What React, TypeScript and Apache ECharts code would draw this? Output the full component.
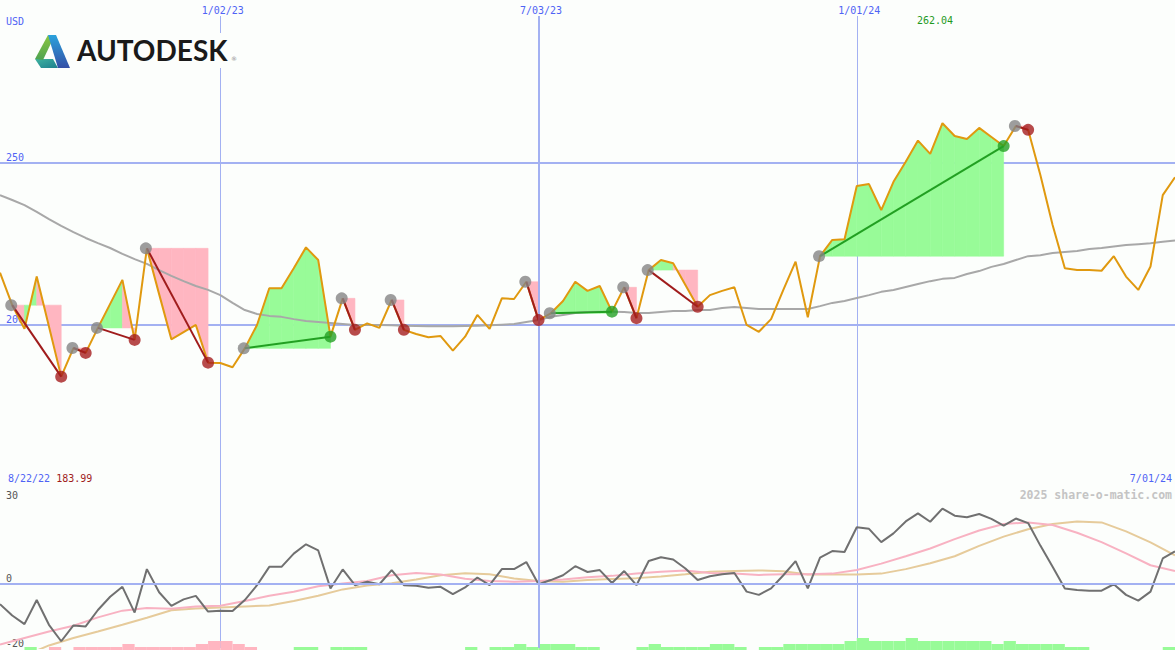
import React, { useEffect, useRef } from 'react';
import * as echarts from 'echarts';

// ---------- categories (weekly closes, Mondays) ----------
const FIRST_WEEK = Date.UTC(2022, 7, 29);
const WEEK_MS = 7 * 24 * 3600 * 1000;
const N = 97;
const weekLabels: string[] = Array.from({ length: N }, (_, i) => {
  const d = new Date(FIRST_WEEK + i * WEEK_MS);
  return `${d.getUTCMonth() + 1}/${String(d.getUTCDate()).padStart(2, '0')}/${String(d.getUTCFullYear()).slice(2)}`;
});
const markedWeeks = [18, 44, 70];
const midYearWeek = 44;

// ---------- price panel ----------
const prices = [
  216.0, 206.0, 198.7, 214.8, 199.4, 183.99, 192.8, 191.3, 199.0, 206.4,
  213.8, 195.3, 223.5, 209.4, 195.5, 197.7, 199.9, 188.3, 188.2, 186.9,
  192.7, 199.9, 211.2, 211.2, 217.4, 223.8, 219.9, 196.3, 208.1, 198.4,
  200.4, 199.0, 207.6, 198.4, 197.1, 196.1, 196.5, 192.0, 196.3, 203.0,
  198.7, 208.1, 207.9, 213.2, 201.4, 203.5, 207.3, 213.2, 210.4, 211.9,
  204.0, 211.5, 202.0, 216.8, 219.9, 218.9, 212.2, 205.5, 209.1, 210.4,
  211.5, 199.9, 197.8, 201.7, 210.7, 219.4, 202.3, 221.1, 226.1, 226.3,
  242.7, 243.3, 235.3, 244.0, 250.2, 256.7, 252.6, 262.04, 258.1, 257.2,
  260.6, 257.8, 255.0, 261.2, 260.0, 246.1, 230.7, 217.4, 216.8, 216.8,
  216.6, 221.1, 214.8, 210.7, 217.9, 239.9, 245.4,
];
const movingAvg = [
  239.9, 238.4, 236.8, 234.7, 232.5, 230.4, 228.5, 226.7, 225.1, 223.6,
  221.8, 220.2, 218.7, 216.8, 215.0, 213.4, 211.9, 210.7, 209.1, 206.7,
  204.5, 203.3, 202.7, 202.4, 201.7, 201.1, 200.8, 200.5, 200.2, 199.9,
  199.9, 199.9, 199.8, 199.7, 199.6, 199.5, 199.5, 199.5, 199.6, 199.7,
  199.8, 200.0, 200.2, 200.8, 201.4, 202.4, 203.0, 203.6, 203.9, 204.0,
  204.0, 203.9, 203.6, 203.6, 203.9, 204.2, 204.2, 204.5, 204.5, 205.1,
  205.4, 205.1, 204.8, 204.8, 204.8, 204.8, 204.8, 205.7, 206.7, 207.3,
  208.2, 209.1, 210.1, 210.7, 211.6, 212.5, 213.4, 214.1, 214.4, 215.6,
  216.5, 217.8, 218.7, 219.9, 221.1, 221.4, 222.1, 222.4, 222.7, 223.3,
  223.6, 224.1, 224.5, 224.8, 225.1, 225.5, 225.9,
];
const tradeEntries = [1, 6, 8, 12, 20, 28, 32, 43, 45, 51, 53, 67, 83];
const tradeExits = [5, 7, 11, 17, 27, 29, 33, 44, 50, 52, 57, 82, 84];
const priceTicks = [200, 250];

// ---------- oscillator panel ----------
const oscillator = [
  -6.4, -9.9, -12.6, -5.1, -12.8, -17.9, -13.0, -13.3, -8.2, -4.1,
  -1.0, -9.0, 4.5, -2.7, -6.9, -4.9, -3.8, -8.7, -8.4, -8.5,
  -5.1, -0.5, 5.2, 5.2, 9.3, 12.2, 10.3, -1.5, 4.4, -0.5,
  0.6, -0.2, 4.2, -0.5, -0.7, -1.3, -1.0, -3.3, -1.2, 1.9,
  -0.5, 4.5, 4.5, 6.7, -0.2, 1.1, 2.6, 5.4, 3.6, 4.2,
  0.2, 3.9, -0.5, 7.0, 8.2, 7.5, 4.7, 1.1, 2.3, 2.9,
  3.3, -2.5, -3.5, -1.5, 2.6, 7.0, -1.5, 8.1, 10.1, 9.8,
  17.5, 17.0, 12.9, 15.6, 19.3, 21.8, 19.2, 23.3, 21.1, 20.6,
  21.6, 20.1, 18.0, 20.2, 18.8, 11.8, 5.2, -1.5, -2.0, -2.2,
  -2.2, -0.2, -3.5, -5.3, -2.5, 7.8, 10.0,
];
const pinkSignal: [number, number][] = [
  [0, -18.9], [2, -16.9], [4, -14.9], [6, -13.1], [8, -10.5], [10, -8.4], [12, -7.6], [14, -7.8],
  [16, -7.1], [18, -6.9], [20, -5.4], [22, -3.8], [24, -2.5], [26, -0.8], [28, 0.0], [30, 0.8],
  [32, 2.6], [34, 3.3], [36, 2.8], [38, 1.5], [40, 0.8], [42, 0.6], [44, 0.8], [46, 1.3],
  [48, 2.0], [50, 2.4], [52, 3.1], [54, 3.7], [56, 4.1], [58, 3.3], [60, 3.1], [62, 2.7],
  [64, 2.9], [66, 2.9], [68, 3.1], [70, 4.2], [72, 6.2], [74, 8.5], [76, 10.9], [78, 13.8],
  [80, 16.5], [82, 18.5], [84, 19.0], [86, 18.2], [88, 15.8], [90, 12.9], [92, 9.4], [94, 5.7], [96, 3.9],
];
const tanSignal: [number, number][] = [
  [0, -25.5], [2, -22.4], [4, -19.2], [6, -16.9], [8, -14.9], [10, -12.8], [12, -10.6], [14, -8.3],
  [16, -7.7], [18, -7.4], [20, -7.1], [22, -6.8], [24, -5.4], [26, -3.8], [28, -1.8], [30, -0.6],
  [32, 0.1], [34, 1.3], [36, 2.6], [38, 3.2], [40, 2.9], [42, 1.6], [44, 0.8], [46, 0.6],
  [48, 1.1], [50, 1.4], [52, 1.7], [54, 2.2], [56, 2.9], [58, 3.7], [60, 3.9], [62, 4.1],
  [64, 3.8], [66, 2.8], [68, 2.8], [70, 2.8], [72, 3.1], [74, 4.5], [76, 6.3], [78, 8.5],
  [80, 11.7], [82, 14.6], [84, 16.9], [86, 18.5], [88, 19.3], [90, 19.0], [92, 16.2], [94, 12.8], [96, 8.8],
];
const oscTicks = [0, -20];

// ---------- strength histogram ----------
const strength = [
  0, 0, 1, 0, -1, 0, -1, -1, -1, -1,
  -2, -1, -1, -1, -1, -1, -2, -3, -3, -2,
  -1, 0, 0, 0, 1, 1, 0, 1, 1, 1,
  0, 0, 0, 0, 0, 0, 0, 0, 1, 0,
  1, 1, 2, 1, 2, 2, 2, 1, 1, 0,
  0, 0, 1, 2, 1, 1, 1, 1, 2, 2,
  1, 0, 1, 1, 2, 2, 2, 2, 2, 3,
  4, 3, 3, 3, 4, 3, 3, 3, 3, 3,
  3, 2, 3, 2, 2, 2, 2, 1, 1, 0,
  0, 0, 0, 0, 0, 1, 0,
];

// ---------- styles ----------
const MONO = 'DejaVu Sans Mono';
const BLUE_TEXT = '#4f63f5';
const GRID_BLUE = '#a3b1f2';
const SEP_BLUE = '#7888ea';
const GAIN_FILL = '#98fb98';
const LOSS_FILL = '#ffb6c1';
const BG = '#fcfefc';

export default function App() {
  const ref = useRef<HTMLDivElement>(null);

  useEffect(() => {
    if (!ref.current) return;
    const chart = echarts.init(ref.current, undefined, { renderer: 'svg' });

    const fillData: number[][] = [];
    tradeEntries.forEach((e, j) => {
      const level = prices[e];
      for (let i = e; i < tradeExits[j]; i++) fillData.push([i, level, prices[i], prices[i + 1]]);
    });
    const tradeLines = tradeEntries.map((e, j) => [e, prices[e], tradeExits[j], prices[tradeExits[j]]]);
    const entryPts = tradeEntries.map((e) => [e, prices[e]]);
    const lossExits = tradeExits.filter((x, j) => prices[x] < prices[tradeEntries[j]]).map((x) => [x, prices[x]]);
    const winExits = tradeExits.filter((x, j) => prices[x] >= prices[tradeEntries[j]]).map((x) => [x, prices[x]]);
    const histData = strength.map((v, i) => [i, v]);

    const minPrice = Math.min(...prices);
    const maxPrice = Math.max(...prices);
    const maxIdx = prices.indexOf(maxPrice);

    const catAxisBase = {
      type: 'category' as const,
      data: weekLabels,
      boundaryGap: false,
      axisTick: { show: false },
    };

    const option: any = {
      animation: false,
      backgroundColor: BG,
      grid: [
        { left: 0, right: 0, top: 16, height: 471, outerBoundsMode: 'none' },
        { left: 0, right: 0, top: 487, height: 161, outerBoundsMode: 'none' },
        { left: 0, right: 0, top: 620, height: 30, outerBoundsMode: 'none' },
      ],
      xAxis: [
        {
          ...catAxisBase,
          gridIndex: 0,
          position: 'top',
          axisLine: { show: false },
          axisLabel: {
            show: true,
            interval: (i: number) => markedWeeks.includes(i),
            margin: 1,
            color: BLUE_TEXT,
            fontFamily: MONO,
            fontSize: 10,
            padding: [0, 0, 0, 5],
          },
          splitLine: {
            show: true,
            interval: (i: number) => markedWeeks.includes(i) && i !== midYearWeek,
            lineStyle: { color: GRID_BLUE, width: 1 },
          },
        },
        {
          ...catAxisBase,
          gridIndex: 1,
          position: 'top',
          axisLine: { show: true, lineStyle: { color: SEP_BLUE, width: 2 } },
          axisLabel: { show: false },
          splitLine: {
            show: true,
            interval: (i: number) => markedWeeks.includes(i) && i !== midYearWeek,
            lineStyle: { color: GRID_BLUE, width: 1 },
          },
        },
        { ...catAxisBase, gridIndex: 2, show: false },
      ],
      yAxis: [
        {
          type: 'value',
          gridIndex: 0,
          min: 150,
          max: 295.06,
          interval: 50,
          axisLine: { show: false },
          axisTick: { show: false },
          axisLabel: {
            inside: true,
            margin: 6,
            verticalAlign: 'bottom',
            color: BLUE_TEXT,
            fontFamily: MONO,
            fontSize: 10,
            formatter: (v: number) => (priceTicks.includes(v) ? String(v) : ''),
          },
          splitLine: {
            show: true,
            showMinLine: false,
            showMaxLine: false,
            lineStyle: { color: GRID_BLUE, width: 2 },
          },
        },
        {
          type: 'value',
          gridIndex: 1,
          min: -20,
          max: 30,
          interval: 10,
          axisLine: { show: false },
          axisTick: { show: false },
          axisLabel: {
            inside: true,
            margin: 6,
            verticalAlign: 'bottom',
            color: '#555555',
            fontFamily: MONO,
            fontSize: 10,
            formatter: (v: number) => (oscTicks.includes(v) ? String(v) : ''),
          },
          splitLine: { show: false },
        },
        { type: 'value', gridIndex: 2, min: 0, max: 10, show: false },
      ],
      series: [
        {
          type: 'custom',
          name: 'tradeFill',
          xAxisIndex: 0,
          yAxisIndex: 0,
          z: 1,
          data: fillData,
          encode: { x: 0, y: [1, 2, 3] },
          renderItem: (_p: any, api: any) => {
            const i = api.value(0);
            const lv = api.value(1);
            const p0 = api.value(2);
            const p1 = api.value(3);
            const col = p1 >= lv ? GAIN_FILL : LOSS_FILL;
            return {
              type: 'polygon',
              shape: { points: [api.coord([i, lv]), api.coord([i, p0]), api.coord([i + 1, p1]), api.coord([i + 1, lv])] },
              style: { fill: col, stroke: col, lineWidth: 0.6 },
            };
          },
          markLine: {
            silent: true,
            symbol: ['none', 'none'],
            label: { show: false },
            data: [{ xAxis: midYearWeek, lineStyle: { color: GRID_BLUE, width: 2, type: 'solid' } }],
          },
        },
        {
          type: 'line',
          name: 'avg',
          xAxisIndex: 0,
          yAxisIndex: 0,
          z: 2,
          data: movingAvg,
          showSymbol: false,
          symbol: 'none',
          lineStyle: { color: '#a8a8a8', width: 2 },
        },
        {
          type: 'line',
          name: 'price',
          xAxisIndex: 0,
          yAxisIndex: 0,
          z: 3,
          data: prices,
          showSymbol: false,
          symbol: 'none',
          lineStyle: { color: '#e0990f', width: 2 },
        },
        {
          type: 'custom',
          name: 'tradeLines',
          xAxisIndex: 0,
          yAxisIndex: 0,
          z: 4,
          data: tradeLines,
          encode: { x: [0, 2], y: [1, 3] },
          renderItem: (_p: any, api: any) => {
            const a = api.coord([api.value(0), api.value(1)]);
            const b = api.coord([api.value(2), api.value(3)]);
            const win = api.value(3) >= api.value(1);
            return {
              type: 'line',
              shape: { x1: a[0], y1: a[1], x2: b[0], y2: b[1] },
              style: { stroke: win ? '#22a022' : '#a01c1c', lineWidth: 2 },
            };
          },
        },
        {
          type: 'scatter',
          xAxisIndex: 0,
          yAxisIndex: 0,
          z: 5,
          data: entryPts,
          symbol: 'circle',
          symbolSize: 12,
          symbolOffset: [-1, 0],
          itemStyle: { color: '#848484' },
        },
        {
          type: 'scatter',
          xAxisIndex: 0,
          yAxisIndex: 0,
          z: 6,
          data: lossExits,
          symbol: 'circle',
          symbolSize: 12,
          itemStyle: { color: '#a51e1e' },
        },
        {
          type: 'scatter',
          xAxisIndex: 0,
          yAxisIndex: 0,
          z: 6,
          data: winExits,
          symbol: 'circle',
          symbolSize: 12,
          itemStyle: { color: '#24a024' },
        },
        {
          type: 'line',
          name: 'tan',
          xAxisIndex: 1,
          yAxisIndex: 1,
          z: 2,
          data: tanSignal,
          showSymbol: false,
          symbol: 'none',
          lineStyle: { color: '#e6cb9b', width: 2 },
          markLine: {
            silent: true,
            symbol: ['none', 'none'],
            label: { show: false },
            data: [
              { yAxis: 0, lineStyle: { color: GRID_BLUE, width: 2, type: 'solid' } },
              { xAxis: midYearWeek, lineStyle: { color: GRID_BLUE, width: 2, type: 'solid' } },
            ],
          },
        },
        {
          type: 'line',
          name: 'pink',
          xAxisIndex: 1,
          yAxisIndex: 1,
          z: 3,
          data: pinkSignal,
          showSymbol: false,
          symbol: 'none',
          lineStyle: { color: '#f8b2c2', width: 2 },
        },
        {
          type: 'line',
          name: 'osc',
          xAxisIndex: 1,
          yAxisIndex: 1,
          z: 4,
          data: oscillator,
          showSymbol: false,
          symbol: 'none',
          lineStyle: { color: '#707070', width: 2 },
        },
        {
          type: 'custom',
          name: 'strength',
          xAxisIndex: 2,
          yAxisIndex: 2,
          z: 2,
          data: histData,
          encode: { x: 0, y: 1 },
          renderItem: (_p: any, api: any) => {
            const i = api.value(0);
            const v = api.value(1);
            if (!v) return { type: 'group', children: [] };
            const a = api.coord([i, 0]);
            const b = api.coord([i + 1, Math.abs(v)]);
            return {
              type: 'rect',
              shape: { x: a[0], y: b[1], width: b[0] - a[0], height: a[1] - b[1] },
              style: { fill: v > 0 ? GAIN_FILL : LOSS_FILL },
            };
          },
        },
      ],
      graphic: [
        { type: 'rect', z: 100, shape: { x: 30, y: 33, width: 208, height: 35 }, style: { fill: BG } },
        {
          type: 'polygon', z: 101,
          shape: { points: [[35, 59], [53, 59], [58, 68], [41, 68]] },
          style: { fill: new echarts.graphic.LinearGradient(0, 0, 1, 1, [{ offset: 0, color: '#3fb3a0' }, { offset: 1, color: '#1d7f8e' }]) },
        },
        {
          type: 'polygon', z: 102,
          shape: { points: [[48, 35], [53, 39], [43, 60], [35, 59]] },
          style: { fill: new echarts.graphic.LinearGradient(0, 0, 0, 1, [{ offset: 0, color: '#8cc63f' }, { offset: 1, color: '#4ea352' }]) },
        },
        {
          type: 'polygon', z: 103,
          shape: { points: [[48, 35], [56, 35], [70, 68], [58, 68]] },
          style: { fill: new echarts.graphic.LinearGradient(0, 0, 0, 1, [{ offset: 0, color: '#2aa2dc' }, { offset: 1, color: '#3550a6' }]) },
        },
        {
          type: 'text', z: 103, x: 77, y: 50,
          style: { text: 'AUTODESK', fontFamily: 'Lato', fontWeight: 'bold', fontSize: 28, fill: '#1a1a1a', verticalAlign: 'middle', align: 'left' },
        },
        { type: 'text', z: 103, x: 231, y: 55, style: { text: '®', fontFamily: 'DejaVu Sans', fontSize: 6, fill: '#888888' } },
        { type: 'text', z: 110, x: 6, y: 16, style: { text: 'USD', fontFamily: MONO, fontSize: 10, fill: BLUE_TEXT } },
        {
          type: 'text', z: 110, x: 935, y: 15,
          style: { text: maxPrice.toFixed(2), fontFamily: MONO, fontSize: 10, fill: '#1f9a1f', align: 'center' },
        },
        {
          type: 'text', z: 110, x: 8, y: 473,
          style: {
            text: `{d|8/22/22} {p|${minPrice.toFixed(2)}}`,
            fontFamily: MONO, fontSize: 10,
            rich: { d: { fill: BLUE_TEXT, fontFamily: MONO, fontSize: 10 }, p: { fill: '#a01c1c', fontFamily: MONO, fontSize: 10 } },
          },
        },
        {
          type: 'text', z: 110, x: 1172, y: 473,
          style: { text: weekLabels[N - 1], fontFamily: MONO, fontSize: 10, fill: BLUE_TEXT, align: 'right' },
        },
        { type: 'text', z: 110, x: 6, y: 490, style: { text: '30', fontFamily: MONO, fontSize: 10, fill: '#555555' } },
        {
          type: 'text', z: 110, x: 1172, y: 489,
          style: { text: '2025 share-o-matic.com', fontFamily: MONO, fontWeight: 'bold', fontSize: 11.5, fill: '#c4c4c4', align: 'right' },
        },
      ],
    };
    void maxIdx;
    chart.setOption(option);
    return () => chart.dispose();
  }, []);

  return <div ref={ref} style={{ position: 'fixed', left: 0, top: 0, width: 1175, height: 650 }} />;
}
